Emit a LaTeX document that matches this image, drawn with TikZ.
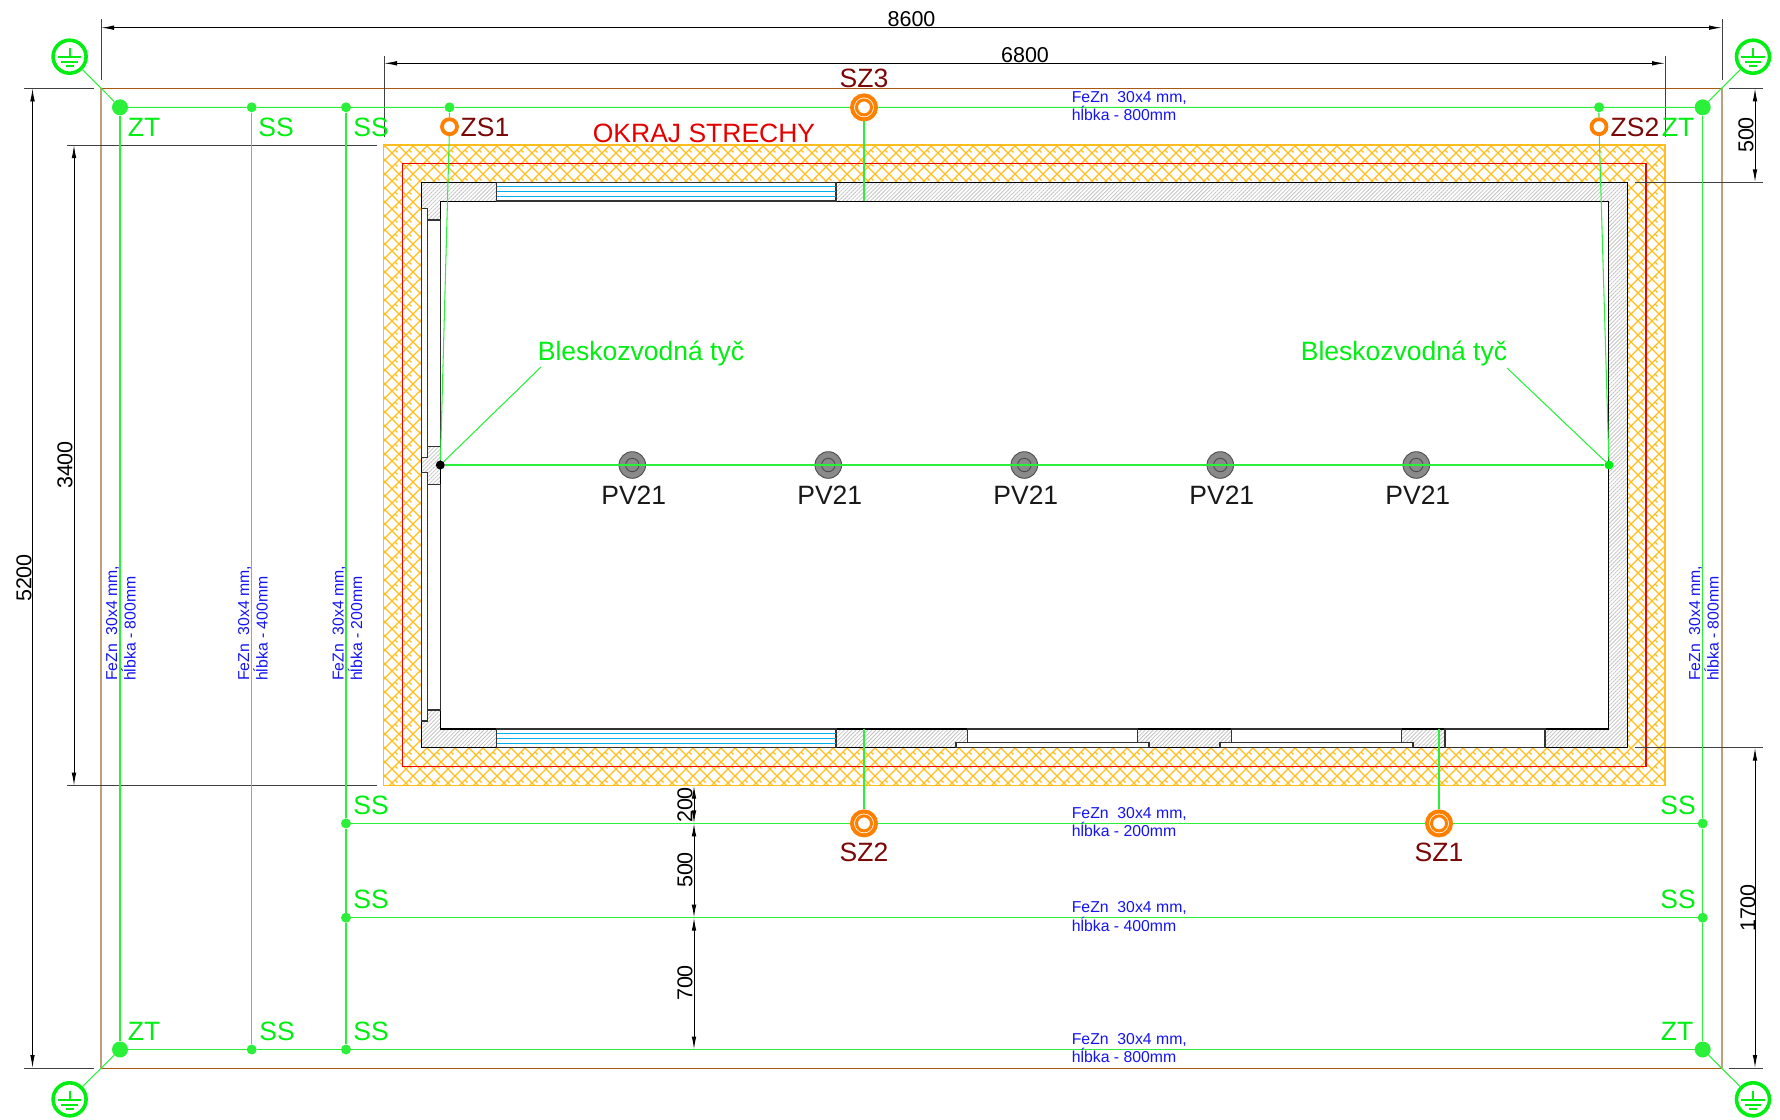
\documentclass[tikz,border=0pt]{standalone}
\usepackage{fontspec}
\setmainfont{Liberation Sans}
\usetikzlibrary{arrows.meta,patterns,patterns.meta}
\definecolor{gr}{HTML}{2AF03A}
\definecolor{grt}{HTML}{00EE11}
\definecolor{org}{HTML}{FF8000}
\definecolor{hat}{HTML}{FFBE1E}
\definecolor{mar}{HTML}{7A0808}
\definecolor{brn}{HTML}{A85A14}
\definecolor{tan1}{HTML}{C0A07C}
\definecolor{blu}{HTML}{1414F0}
\definecolor{pvg}{HTML}{8A8A8A}
\pgfdeclarepatternformonly{roofh}{\pgfqpoint{-1pt}{-1pt}}{\pgfqpoint{15pt}{15pt}}{\pgfqpoint{14pt}{14pt}}{%
  \pgfsetlinewidth{1.25pt}%
  \pgfpathmoveto{\pgfqpoint{0pt}{0pt}}\pgfpathlineto{\pgfqpoint{14pt}{14pt}}%
  \pgfpathmoveto{\pgfqpoint{0pt}{14pt}}\pgfpathlineto{\pgfqpoint{14pt}{0pt}}%
  \pgfpathmoveto{\pgfqpoint{3pt}{3pt}}\pgfpathlineto{\pgfqpoint{5.5pt}{0.5pt}}%
  \pgfusepath{stroke}}
\tikzset{
  lab/.style={font=\fontsize{26.5}{26.5}\selectfont,inner sep=0pt},
  gl/.style={lab,text=grt},
  zl/.style={lab,text=mar},
  dimt/.style={font=\fontsize{21.5}{22}\selectfont,inner sep=0pt,text=black},
  fez/.style={font=\fontsize{15.8}{16}\selectfont,inner sep=0pt,text=blu,anchor=base west},
  fezv/.style={fez,rotate=90},
  gline/.style={draw=gr,line width=1.05pt},
  gdot/.style={circle,fill=gr,inner sep=0pt,minimum size=10pt},
  zt/.style={circle,fill=gr,inner sep=0pt,minimum size=16pt},
  zsring/.style={circle,draw=org,line width=3.8pt,fill=white,inner sep=0pt,minimum size=15pt},
  szring/.style={circle,draw=org,line width=4pt,fill=white,inner sep=0pt,minimum size=24pt,
     path picture={\draw[org,line width=3pt] (path picture bounding box.center) circle (7.5pt);}},
  pvc/.style={circle,draw=black!70,fill=pvg,line width=0.9pt,inner sep=0pt,minimum size=26.6pt,
     path picture={\draw[black!70,line width=0.9pt] (path picture bounding box.center) circle (6.7pt);}},
  earthc/.style={circle,draw=grt,line width=3.6pt,fill=white,inner sep=0pt,minimum size=33pt},
  dimln/.style={draw=black,line width=1pt,arrows={Latex[length=13pt,width=4.6pt]-Latex[length=13pt,width=4.6pt]}},
  extl/.style={draw=black!75,line width=1pt},
  wall/.style={draw=black,line width=1.1pt},
  glz/.style={draw=black!80,line width=1.1pt,fill=white}
}
\newcommand{\segln}[4]{\coordinate (#1a) at (#3); \coordinate (#1b) at (#4); \draw[#2] (#1a) -- (#1b);}
\newcommand{\earthsym}[3]{%
  \node[earthc] (#1) at (#2,#3) {};
  \draw[grt,line width=2pt] (#2,#3-8.5) -- (#2,#3+1)
    (#2-11.7,#3+0.7) -- (#2+11.7,#3+0.7)
    (#2-8.3,#3+5.2) -- (#2+8.3,#3+5.2)
    (#2-4,#3+9.2) -- (#2+4,#3+9.2);}
\begin{document}
\begin{tikzpicture}[x=1pt,y=-1pt]
\useasboundingbox (0,0) rectangle (1780,1119);
% site outline
\draw[tan1,line width=1.5pt] (101,88.3) -- (101,1068) (1722,88.3) -- (1722,1068);
\draw[brn,line width=1pt] (101,88.3) -- (1722,88.3) (101,1068) -- (1722,1068);
% roof hatch
\path[pattern=roofh,pattern color=hat,even odd rule] (383.5,145) rectangle (1665,785.7) (421.7,182.3) rectangle (1627.7,747.7);
\draw[hat,line width=1.2pt] (383.5,145) rectangle (1665,785.7);
\draw[red!95!black,line width=1.1pt] (402.3,163.7) rectangle (1646,766.7);
% walls
\fill[white] (421.7,182.3) rectangle (1627.7,747.7);
\path[pattern={Lines[angle=45,distance=2.8pt,line width=0.8pt]},pattern color=black!24,even odd rule] (421.7,182.3) rectangle (1627.7,747.7) (440.3,201.3) rectangle (1608.7,729);
\draw[wall] (421.7,182.3) rectangle (1627.7,747.7);
\draw[wall] (440.3,201.3) rectangle (1608.7,729);
% left wall openings
\foreach \a/\b/\c/\d in {421.7/208.3/427.3/457.3,421.7/472.7/427.3/721,427.3/220/440.3/446.7,427.3/484.3/440.3/710}
  \draw[glz] (\a,\b) rectangle (\c,\d);
% cyan windows
\foreach \t in {182.3,729}{
  \draw[glz] (496.7,\t) rectangle (836,\t+18.7);
  \draw[cyan,line width=0.9pt] (496.7,\t+4.5) -- (836,\t+4.5) (496.7,\t+9.3) -- (836,\t+9.3) (496.7,\t+14.2) -- (836,\t+14.2);
}
% bottom doors / windows
\draw[glz] (967.4,729) rectangle (1137.6,742.3);
\draw[glz] (956,742.3) rectangle (1149,747.7);
\draw[glz] (1231.5,729) rectangle (1401.7,742.3);
\draw[glz] (1220,742.3) rectangle (1413,747.7);
\draw[glz] (1445,729) rectangle (1545,747.7);
% dimensions
\segln{d1}{dimln}{101,27.7}{1722,27.7}
\segln{d2}{dimln}{384,63.3}{1665,63.3}
\segln{d3}{dimln}{32.5,88.3}{32.5,1068}
\segln{d4}{dimln}{74,145}{74,785.7}
\segln{d5}{dimln}{1755,88.3}{1755,182.3}
\segln{d6}{dimln}{1755,747.7}{1755,1068}
\segln{d7}{dimln}{694,785.7}{694,823.4}
\segln{d8}{dimln}{694,823.4}{694,917.7}
\segln{d9}{dimln}{694,917.7}{694,1049.5}
\segln{e1}{extl}{101,19}{101,80}
\segln{e2}{extl}{1722,19}{1722,80}
\segln{e3}{extl}{384,55.7}{384,137}
\segln{e4}{extl}{1665,55.7}{1665,137}
\segln{e5}{extl}{24,88.3}{94,88.3}
\segln{e6}{extl}{24,1068}{94,1068}
\segln{e7}{extl}{67,145}{377,145}
\segln{e8}{extl}{67,785.7}{377,785.7}
\segln{e9}{extl}{1729,88.3}{1763,88.3}
\segln{e10}{extl}{1635,182.3}{1763,182.3}
\segln{e11}{extl}{1635,747.7}{1763,747.7}
\segln{e12}{extl}{1729,1068}{1763,1068}
\node[dimt] (t8600) at (911.5,19) {8600};
\node[dimt] (t6800) at (1025,55.5) {6800};
\node[dimt,rotate=90] (t5200) at (24,578) {5200};
\node[dimt,rotate=90] (t3400) at (65,465) {3400};
\node[dimt,rotate=90] (t500r) at (1746,135) {500};
\node[dimt,rotate=90] (t1700) at (1748,908) {1700};
\node[dimt,rotate=90] (t200) at (685,805) {200};
\node[dimt,rotate=90] (t500c) at (685,870) {500};
\node[dimt,rotate=90] (t700) at (685,983) {700};
% PV circles
\foreach \n/\x in {1/632.3,2/828.3,3/1024.3,4/1220.3,5/1416.3}{
  \node[pvc] (pv\n) at (\x,465) {};
  \node[lab,text=black!90] (pvt\n) at (\x+1.5,495) {PV21};
}
% earth symbols
\earthsym{eTL}{69.6}{56.7}
\earthsym{eTR}{1753}{56.7}
\earthsym{eBL}{69.6}{1099.3}
\earthsym{eBR}{1753}{1099.3}
% green nodes
\node[zt] (tl) at (120,107.3) {};
\node[zt] (tr) at (1702.7,107.3) {};
\node[zt] (bl) at (120,1049.5) {};
\node[zt] (br) at (1702.7,1049.5) {};
\node[gdot] (s1t) at (251.7,107.3) {};
\node[gdot] (s2t) at (346,107.3) {};
\node[gdot] (zst1) at (449.5,107.3) {};
\node[gdot] (zst2) at (1599,107.3) {};
\node[gdot] (s1b) at (251.7,1049.5) {};
\node[gdot] (s2b) at (346,1049.5) {};
\node[gdot] (l1) at (346,823.4) {};
\node[gdot] (r1) at (1702.7,823.4) {};
\node[gdot] (l2) at (346,917.7) {};
\node[gdot] (r2) at (1702.7,917.7) {};
\node[circle,fill=black,inner sep=0pt,minimum size=9pt] (bd1) at (440.3,465) {};
\node[circle,fill=grt,inner sep=0pt,minimum size=9pt] (bd2) at (1609,465) {};
\node[zsring] (zs1) at (449.5,126.7) {};
\node[zsring] (zs2) at (1599,126.7) {};
\node[szring] (sz3) at (864,107.4) {};
\node[szring] (sz2) at (864,823.4) {};
\node[szring] (sz1) at (1439,823.4) {};
\coordinate (w3) at (864,201.3);
\coordinate (w2) at (864,729);
\coordinate (w1) at (1439,729);
\coordinate (b1e) at (541,367);
\coordinate (b2e) at (1507,368);
% green connectors
\draw[gline] (tl) -- (s1t) (s1t) -- (s2t) (s2t) -- (zst1) (zst1) -- (sz3) (sz3) -- (zst2) (zst2) -- (tr);
\draw[gline] (bl) -- (s1b) (s1b) -- (s2b) (s2b) -- (br);
\draw[gline] (l1) -- (sz2) (sz2) -- (sz1) (sz1) -- (r1);
\draw[gline] (l2) -- (r2);
\draw[gline] (tl) -- (bl) (s1t) -- (s1b) (s2t) -- (l1) (l1) -- (l2) (l2) -- (s2b);
\draw[gline] (tr) -- (r1) (r1) -- (r2) (r2) -- (br);
\draw[gline] (zst1) -- (zs1) (zs1) -- (bd1);
\draw[gline] (zst2) -- (zs2) (zs2) -- (bd2);
\draw[gline] (sz3) -- (w3) (sz2) -- (w2) (sz1) -- (w1);
\draw[gline] (bd1) -- (bd2);
\draw[gline] (bd1) -- (b1e) (bd2) -- (b2e);
\draw[gline] (eTL) -- (tl) (eTR) -- (tr) (eBL) -- (bl) (eBR) -- (br);
% green labels
\node[gl] (a1) at (144,127) {ZT};
\node[gl] (a2) at (276,127) {SS};
\node[gl] (a3) at (371,127) {SS};
\node[gl] (a4) at (1678,127) {ZT};
\node[gl] (a5) at (371,805) {SS};
\node[gl] (a6) at (1678,805) {SS};
\node[gl] (a7) at (371,899) {SS};
\node[gl] (a8) at (1678,899) {SS};
\node[gl] (a9) at (144,1031) {ZT};
\node[gl] (a10) at (277,1031) {SS};
\node[gl] (a11) at (371,1031) {SS};
\node[gl] (a12) at (1677,1031) {ZT};
\node[gl] (bl1) at (641,353.5) {Bleskozvodná tyč};
\node[gl] (bl2) at (1404,353.5) {Bleskozvodná tyč};
% maroon labels
\node[zl] (zs1t) at (485,127.5) {ZS1};
\node[zl] (zs2t) at (1635,127.5) {ZS2};
\node[zl] (sz3t) at (864,78) {SZ3};
\node[zl] (sz2t) at (864,852.5) {SZ2};
\node[zl] (sz1t) at (1439,852.5) {SZ1};
\node[lab,text=red!90!black] (okraj) at (704,133) {OKRAJ STRECHY};
% blue texts
\foreach \i/\yy/\dd in {1/107.3/800,2/823.4/200,3/917.7/400,4/1049.5/800}{
  \node[fez] (fa\i) at (1071.6,\yy-5) {FeZn\ \ 30x4 mm,};
  \node[fez] (fb\i) at (1071.6,\yy+13.3) {hĺbka - \dd mm};
}
\foreach \i/\xx/\dd in {1/119.7/800,2/251.7/400,3/346/200,4/1702.7/800}{
  \node[fezv] (va\i) at (\xx-2.5,681) {FeZn\ \ 30x4 mm,};
  \node[fezv] (vb\i) at (\xx+16,681) {hĺbka - \dd mm};
}
\end{tikzpicture}
\end{document}
